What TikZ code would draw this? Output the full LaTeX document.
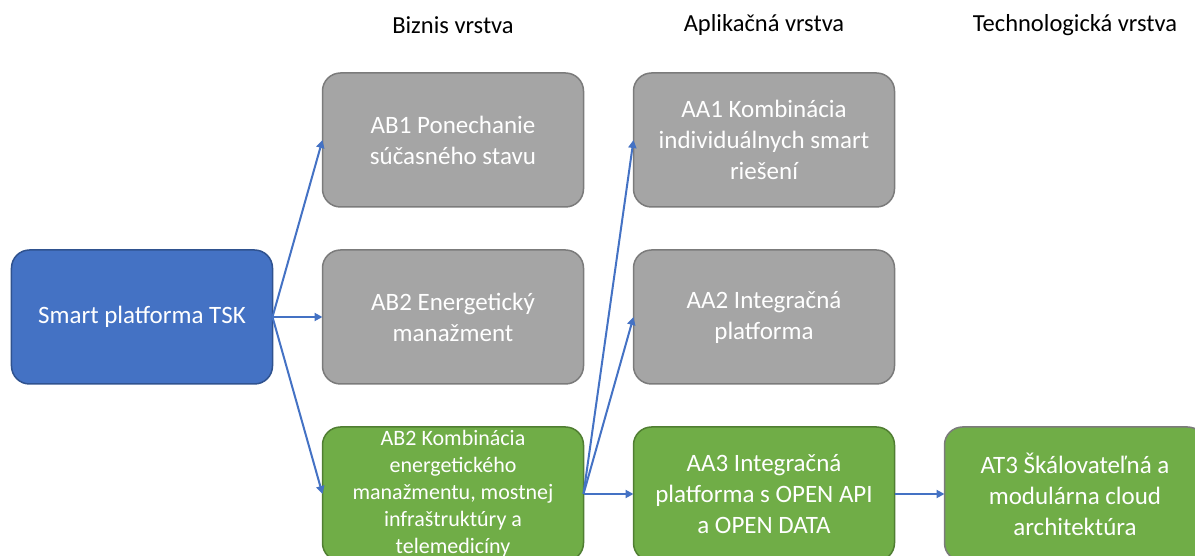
\documentclass[tikz,border=0pt]{standalone}
\usepackage{fontspec}
\setmainfont{Carlito}
\usetikzlibrary{positioning, arrows.meta, shapes}
\definecolor{tskblue}{HTML}{4472C4}
\definecolor{tskblueline}{HTML}{2F528F}
\definecolor{tskgray}{HTML}{A5A5A5}
\definecolor{tskgrayline}{HTML}{7B7B7B}
\definecolor{tskgreen}{HTML}{70AD47}
\definecolor{tskgreenline}{HTML}{507E32}

\begin{document}
\begin{tikzpicture}[
      mybox/.style={
         rectangle,
         rounded corners=18pt,
         draw,
         line width=1.5pt,
         text=white,
         align=center,
         inner sep=0pt,
         outer sep=0pt,
         minimum width=261pt,
         minimum height=134pt,
         font=\fontsize{25}{31}\selectfont},
      bluebox/.style={mybox, fill=tskblue, draw=tskblueline},
      graybox/.style={mybox, fill=tskgray, draw=tskgrayline},
      greenbox/.style={mybox, fill=tskgreen, draw=tskgreenline},
      layerlabel/.style={font=\fontsize{24.5}{28}\selectfont, text=black},
      myarrow/.style={-{Triangle[length=8pt,width=8pt]}, draw=tskblue, fill=tskblue, line width=2pt},
      node distance=43pt and 50pt
      ]
      \path[use as bounding box, clip] (-142pt,-239pt) rectangle (1053pt,317pt);

      \node[bluebox] (smart) {Smart platforma TSK};
      \node[graybox, right=of smart] (ab2) {AB2 Energetický\\manažment};
      \node[graybox, above=of ab2] (ab1) {AB1 Ponechanie\\súčasného stavu};
      \node[greenbox, below=of ab2, font=\fontsize{22}{27}\selectfont] (ab3)
           {AB2 Kombinácia\\energetického\\manažmentu, mostnej\\infraštruktúry a\\telemedicíny};
      \node[graybox, right=of ab2] (aa2) {AA2 Integračná\\platforma};
      \node[graybox, above=of aa2] (aa1) {AA1 Kombinácia\\individuálnych smart\\riešení};
      \node[greenbox, below=of aa2] (aa3) {AA3 Integračná\\platforma s OPEN API\\a OPEN DATA};
      \node[greenbox, draw=tskgrayline, right=of aa3] (at3) {AT3 Škálovateľná a\\modulárna cloud\\architektúra};

      % layer titles
      \node[layerlabel] (hbiz) at ([yshift=48pt]ab1.north) {Biznis vrstva};
      \node[layerlabel] (happ) at ([yshift=48pt]aa1.north) {Aplikačná vrstva};
      \node[layerlabel] (htech) at ([yshift=48pt]aa1.north -| at3) {Technologická vrstva};

    \foreach \i/\j in {% start node/end node
      smart/ab1,
      smart/ab2,
      smart/ab3,
      ab3/aa1,
      ab3/aa2,
      ab3/aa3,
      aa3/at3}
       \draw [myarrow] (\i.east) -- (\j.west);
    \end{tikzpicture}
\end{document}
